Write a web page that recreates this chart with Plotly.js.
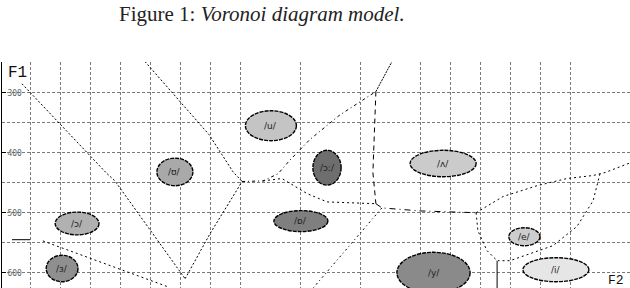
<!DOCTYPE html>
<html>
<head>
<meta charset="utf-8">
<script src="https://cdn.plot.ly/plotly-3.0.1.min.js"></script>
<style>html,body{margin:0;padding:0;background:#fff;}#chart{width:630px;height:288px;}</style>
</head>
<body>
<div id="chart"></div>
<script>
// Vowel regions (F2, F1 centres and half-extents)
const vowelLabels = ["/u/", "/ʊ/", "/ɔː/", "/ʌ/", "/ɔ/", "/ɒ/", "/ɜ/", "/y/", "/i/", "/e/"];
const vowelF2 = [903, 583, 1090, 1477, 257, 1003, 207, 1445, 1853, 1748];
const vowelF1 = [355, 432, 425, 418, 518, 514, 593, 600, 595, 540];
const vowelF2Spread = [85, 60, 47, 110, 73, 90, 53, 122, 110, 52];
const vowelF1Spread = [25, 23, 29, 22, 19, 17.5, 22, 34, 20, 15];
const vowelFill = ["#c4c4c4", "#a9a9a9", "#6e6e6e", "#cbcbcb", "#b1b1b1", "#7f7f7f", "#8f8f8f", "#8a8a8a", "#e6e6e6", "#cdcdcd"];

// Voronoi boundary polylines
const boundaries = [
  {f2: [73, 353, 383, 617], f1: [285, 433, 447, 610], dash: "2px,2px"},
  {f2: [617, 700, 807], f1: [610, 535, 448], dash: "2px,2px"},
  {f2: [483, 697, 777, 807], f1: [248, 370, 432, 448], dash: "2px,2px"},
  {f2: [807, 877, 927, 967, 1033, 1133, 1253], f1: [448, 447, 435, 412, 378, 337, 298], dash: "3px,3px,1px,3px"},
  {f2: [877, 940, 1023, 1090, 1253], f1: [447, 443, 468, 482, 485], dash: "2px,3px"},
  {f2: [1253, 1313], f1: [298, 242], dash: "2px,1px"},
  {f2: [1253, 1243, 1253], f1: [298, 433, 485], dash: "5px,4px"},
  {f2: [1253, 1273, 1400, 1587], f1: [485, 492, 497, 500], dash: "6px,4px,1px,4px"},
  {f2: [1273, 1043], f1: [492, 626], dash: "2px,3px,1px,3px"},
  {f2: [1587, 1677, 1790, 1890, 1977, 2017, 2100], f1: [500, 473, 455, 443, 438, 433, 417], dash: "2px,3px"},
  {f2: [2000, 1977, 1923, 1843, 1700, 1660], f1: [435, 480, 523, 555, 580, 580], dash: "2px,3px"},
  {f2: [1587, 1593, 1623, 1657], f1: [500, 530, 563, 580], dash: "2px,3px"},
  {f2: [1657, 1657], f1: [580, 626], dash: "solid"},
  {f2: [40, 100], f1: [545, 545], dash: "solid"},
  {f2: [143, 557], f1: [547, 623], dash: "2px,3px"}
];

const yTickVals = [300, 400, 500, 600];
const yTickText = ["300", "400", "500", "600"];
const xGridVals = [100, 200, 300, 400, 500, 600, 700, 800, 1000, 1200, 1400, 1500, 1600, 1700, 1800, 1900];

const traces = boundaries.map(b => ({
  x: b.f2, y: b.f1, type: "scatter", mode: "lines",
  line: {color: "#000", width: 1, dash: b.dash},
  hoverinfo: "skip", showlegend: false
}));

const shapes = vowelF2.map((c, i) => ({
  type: "circle", xref: "x", yref: "y",
  x0: c - vowelF2Spread[i], x1: c + vowelF2Spread[i],
  y0: vowelF1[i] - vowelF1Spread[i], y1: vowelF1[i] + vowelF1Spread[i],
  fillcolor: vowelFill[i], line: {color: "#000", width: 1.4, dash: "4px,1px"}, layer: "above"
}));

const annotations = vowelLabels.map((t, i) => ({
  x: vowelF2[i], y: vowelF1[i], xref: "x", yref: "y", text: t, showarrow: false,
  font: {family: "DejaVu Sans", size: 9, color: "#222"}
}));
annotations.push({
  xref: "paper", yref: "paper", x: 0.5, y: 1, yanchor: "bottom", xanchor: "center",
  yshift: 34, xshift: -54,
  text: "Figure 1: <i>Voronoi diagram model.</i>", showarrow: false,
  font: {family: "Liberation Serif", size: 21, color: "#222"}
});
annotations.push({
  xref: "paper", yref: "paper", x: 0, y: 1, xanchor: "left", yanchor: "top", xshift: 4, yshift: 0,
  text: "F1", showarrow: false, font: {family: "Liberation Mono", size: 16, color: "#111"}
});
annotations.push({
  xref: "paper", yref: "paper", x: 1, y: 0, xanchor: "right", yanchor: "bottom", xshift: -4, yshift: -2,
  text: "F2", showarrow: false, font: {family: "Liberation Mono", size: 13, color: "#111"}
});

const layout = {
  width: 630, height: 288,
  margin: {l: 2, r: 0, t: 62, b: 0, pad: 0},
  paper_bgcolor: "#fff", plot_bgcolor: "#fff",
  showlegend: false,
  xaxis: {
    range: [6.67, 2100], tickvals: xGridVals, showticklabels: false, ticks: "",
    showgrid: true, gridcolor: "#7a7a7a", gridwidth: 1, griddash: "3px,2px",
    zeroline: false, showline: false
  },
  yaxis: {
    range: [625.5, 248.8], tickvals: yTickVals, ticktext: yTickText,
    ticks: "inside", ticklen: 4, tickcolor: "#000", tickwidth: 1,
    ticklabelposition: "inside", tickfont: {family: "DejaVu Sans Mono", size: 8, color: "#666"},
    showgrid: true, gridcolor: "#7a7a7a", gridwidth: 1, griddash: "3px,2px",
    minor: {dtick: 50, tick0: 250, showgrid: true, gridcolor: "#7a7a7a", gridwidth: 1, griddash: "3px,2px", ticks: ""},
    zeroline: false, showline: true, linecolor: "#000", linewidth: 1.5
  },
  shapes: shapes,
  annotations: annotations
};

Plotly.newPlot("chart", traces, layout, {staticPlot: true, displayModeBar: false});
</script>
</body>
</html>
